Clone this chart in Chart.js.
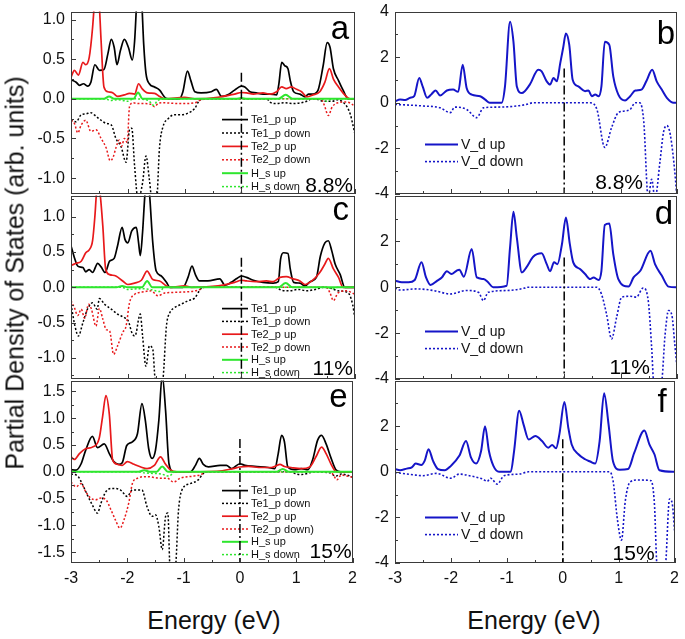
<!DOCTYPE html>
<html lang="en">
<head>
  <meta charset="UTF-8" />
  <title>Partial DOS</title>
  <script src="https://cdn.jsdelivr.net/npm/chart.js"></script>
  <style>
    * { box-sizing: border-box; }
    html, body {
      margin: 0;
      padding: 0;
      background: #fff;
      font-family: "Liberation Sans", Arial, sans-serif;
    }
    #wrap {
      position: relative;
      width: 685px;
      height: 639px;
      overflow: hidden;
    }
    canvas { position: absolute; }
    .ytitle {
      position: absolute;
      left: 15px;
      top: 273px;
      transform: translate(-50%, -50%) rotate(-90deg);
      white-space: nowrap;
      font-size: 25px;
      line-height: 1;
      color: #111;
    }
    .xtitle {
      position: absolute;
      top: 620px;
      transform: translate(-50%, -50%);
      white-space: nowrap;
      font-size: 25px;
      line-height: 1;
      color: #111;
    }
  </style>
</head>
<body>
<div id="wrap">
  <canvas id="pa"></canvas>
  <canvas id="pb"></canvas>
  <canvas id="pc"></canvas>
  <canvas id="pd"></canvas>
  <canvas id="pe"></canvas>
  <canvas id="pf"></canvas>
  <div class="ytitle">Partial Density of States (arb. units)</div>
  <div class="xtitle" style="left:214px">Energy (eV)</div>
  <div class="xtitle" style="left:534px">Energy (eV)</div>
</div>

<script>
  // ---- data: [energy (eV), DOS] ----
  const XTICKS = [-3, -2, -1, 0, 1, 2];
  const YTICKS_A = [-1.0, -0.5, 0, 0.5, 1.0];
  const YTICKS_C = [-1.0, -0.5, 0, 0.5, 1.0];
  const YTICKS_E = [-1.5, -1.0, -0.5, 0, 0.5, 1.0, 1.5];
  const YTICKS_B = [-4, -2, 0, 2, 4];
  const YTICKS_D = [-4, -2, 0, 2];
  const YTICKS_F = [-4, -2, 0, 2];
  const YRANGE_A = [-1.2, 1.1];
  const YRANGE_C = [-1.3, 1.3];
  const YRANGE_E = [-1.7, 1.7];
  const YRANGE_V = [-4, 4];
  const FERMI_TOPS = [0.33, 1.5, 0.42, 1.3, 0.61, 1.43]; // a b c d e f
  const LEGEND_LEFT = ["Te1_p up", "Te1_p down", "Te2_p up", "Te2_p down", "H_s up", "H_s down"];
  const LEGEND_LEFT_E = ["Te1_p up", "Te1_p down", "Te2_p up", "Te2_p down)", "H_s up", "H_s down"];
  const LEGEND_RIGHT = ["V_d up", "V_d down"];
  const STRAIN = ["8.8%", "8.8%", "11%", "11%", "15%", "15%"];

  // panel a (8.8%)
  const A_TE1_UP = [[-3.00,0.24],[-2.91,0.21],[-2.85,0.17],[-2.78,0.19],[-2.71,0.16],[-2.65,0.21],[-2.58,0.43],[-2.50,0.36],[-2.42,0.37],[-2.35,0.57],[-2.29,0.75],[-2.24,0.65],[-2.19,0.43],[-2.13,0.61],[-2.06,0.75],[-1.99,0.65],[-1.92,0.49],[-1.88,0.73],[-1.84,1.25],[-1.80,1.5],[-1.76,1.3],[-1.72,0.69],[-1.68,0.32],[-1.62,0.19],[-1.53,0.15],[-1.44,0.11],[-1.35,0.02],[-1.29,0],[-1.09,0],[-1.03,0.09],[-0.95,0.35],[-0.89,0.23],[-0.82,0.09],[-0.71,0.075],[-0.53,0.09],[-0.44,0.12],[-0.35,0.03],[-0.24,0.05],[-0.12,0.11],[0.00,0.16],[0.06,0.15],[0.15,0.09],[0.26,0.075],[0.38,0.06],[0.50,0.06],[0.62,0.05],[0.66,0.19],[0.71,0.46],[0.76,0.42],[0.82,0.38],[0.86,0.23],[0.92,0.09],[1.03,0.06],[1.12,0.025],[1.18,0.06],[1.26,0.06],[1.35,0.11],[1.44,0.42],[1.51,0.71],[1.56,0.65],[1.62,0.38],[1.71,0.23],[1.79,0.11],[1.88,0],[2.00,0]];
  const A_TE1_DN = [[-3.00,-0.26],[-2.91,-0.29],[-2.82,-0.2],[-2.74,-0.19],[-2.65,-0.175],[-2.56,-0.22],[-2.47,-0.27],[-2.38,-0.31],[-2.29,-0.33],[-2.21,-0.5],[-2.12,-0.6],[-2.03,-0.8],[-1.97,-0.39],[-1.93,-0.37],[-1.88,-0.85],[-1.82,-1.27],[-1.74,-1.06],[-1.68,-0.72],[-1.62,-1.02],[-1.56,-1.35],[-1.50,-1.35],[-1.44,-0.6],[-1.38,-0.35],[-1.29,-0.25],[-1.18,-0.2],[-1.06,-0.2],[-0.94,-0.18],[-0.82,-0.12],[-0.74,-0.02],[-0.65,0],[0.45,0],[0.50,-0.04],[0.60,-0.06],[0.75,-0.05],[0.90,-0.06],[1.05,-0.05],[1.15,-0.03],[1.25,0],[1.35,-0.01],[1.45,-0.03],[1.60,-0.03],[1.70,-0.01],[1.80,-0.05],[1.86,-0.1],[1.92,-0.2],[1.96,-0.32],[2.00,-0.45]];
  const A_TE2_UP = [[-3.00,0.27],[-2.94,0.36],[-2.87,0.3],[-2.79,0.46],[-2.74,0.43],[-2.68,0.52],[-2.62,0.9],[-2.58,1.3],[-2.55,1.6],[-2.51,1.3],[-2.47,0.73],[-2.42,0.15],[-2.35,0.09],[-2.26,0.075],[-2.18,0.03],[-2.06,0.05],[-1.97,0.07],[-1.88,0.06],[-1.81,0.19],[-1.75,0.13],[-1.65,0.075],[-1.53,0.07],[-1.44,0.03],[-1.35,0],[-1.00,0.02],[-0.82,0],[-0.41,0.02],[-0.12,0.06],[0.00,0.08],[0.09,0.075],[0.21,0.06],[0.38,0.075],[0.50,0.06],[0.62,0.09],[0.71,0.15],[0.79,0.13],[0.88,0.15],[0.97,0.12],[1.06,0.09],[1.15,0.025],[1.26,0.05],[1.38,0.09],[1.47,0.21],[1.55,0.38],[1.62,0.25],[1.71,0.15],[1.82,0.05],[1.91,0],[2.00,0]];
  const A_TE2_DN = [[-3.00,-0.27],[-2.94,-0.31],[-2.88,-0.43],[-2.82,-0.33],[-2.74,-0.27],[-2.65,-0.41],[-2.56,-0.39],[-2.47,-0.5],[-2.38,-0.62],[-2.31,-0.78],[-2.26,-0.74],[-2.21,-0.62],[-2.15,-0.52],[-2.11,-0.6],[-2.06,-0.5],[-2.01,-0.55],[-1.97,-0.1],[-1.91,-0.05],[-1.82,-0.06],[-1.71,-0.06],[-1.59,-0.07],[-1.53,-0.1],[-1.47,-0.06],[-1.38,-0.05],[-1.06,-0.06],[-0.82,-0.05],[-0.74,-0.02],[-0.59,0],[1.40,0],[1.46,-0.08],[1.53,-0.21],[1.60,-0.1],[1.70,-0.05],[1.85,-0.04],[1.95,-0.07],[2.00,-0.1]];
  const A_H_UP = [[-3,0],[-2.42,0],[-2.33,0.03],[-2.24,0],[-1.9,0],[-1.82,0.08],[-1.74,0],[-0.1,0],[0,0.01],[0.1,0],[0.65,0],[0.78,0.05],[0.9,0],[2,0]];
  const A_H_DN = [[-3,0],[-2.4,0],[-2.3,-0.02],[-2.18,-0.01],[-2.0,-0.03],[-1.9,0],[-1.64,-0.02],[-1.55,-0.08],[-1.47,-0.02],[-1.3,0],[1.4,0],[1.5,-0.03],[1.6,0],[2,0]];

  // panel c (11%)
  const C_TE1_UP = [[-3.00,0.59],[-2.94,0.42],[-2.88,0.3],[-2.79,0.28],[-2.74,0.22],[-2.68,0.25],[-2.62,0.21],[-2.53,0.34],[-2.47,0.29],[-2.40,0.21],[-2.32,0.37],[-2.24,0.41],[-2.18,0.59],[-2.10,0.85],[-2.05,0.68],[-2.00,0.63],[-1.93,0.8],[-1.85,0.85],[-1.81,0.63],[-1.78,0.45],[-1.74,0.78],[-1.70,1.3],[-1.66,1.6],[-1.62,1.35],[-1.56,0.63],[-1.50,0.23],[-1.41,0.16],[-1.32,0.07],[-1.26,0],[-1.03,0],[-0.94,0.14],[-0.87,0.3],[-0.81,0.18],[-0.74,0.09],[-0.59,0.09],[-0.38,0.12],[-0.29,0.03],[-0.18,0.07],[-0.09,0.12],[0.00,0.16],[0.09,0.14],[0.21,0.1],[0.38,0.07],[0.56,0.06],[0.65,0.08],[0.69,0.4],[0.74,0.49],[0.82,0.48],[0.86,0.26],[0.92,0.07],[1.03,0.06],[1.12,0.02],[1.21,0.08],[1.32,0.14],[1.39,0.44],[1.47,0.63],[1.53,0.66],[1.59,0.52],[1.65,0.33],[1.74,0.18],[1.82,0],[2.00,0]];
  const C_TE1_DN = [[-3.00,-0.24],[-2.93,-0.55],[-2.87,-0.69],[-2.79,-0.5],[-2.71,-0.31],[-2.62,-0.22],[-2.54,-0.31],[-2.50,-0.16],[-2.41,-0.24],[-2.29,-0.31],[-2.18,-0.38],[-2.06,-0.43],[-1.99,-0.48],[-1.93,-0.64],[-1.88,-0.69],[-1.85,-0.64],[-1.81,-0.45],[-1.78,-0.38],[-1.74,-0.69],[-1.68,-1.12],[-1.62,-0.83],[-1.56,-0.88],[-1.52,-1.3],[-1.44,-1.45],[-1.38,-1.3],[-1.32,-0.55],[-1.26,-0.36],[-1.18,-0.29],[-1.06,-0.24],[-0.94,-0.19],[-0.82,-0.15],[-0.74,-0.05],[-0.68,0],[0.60,0],[0.70,-0.04],[0.85,-0.05],[1.00,-0.03],[1.15,-0.05],[1.30,-0.03],[1.45,0],[1.60,-0.02],[1.70,-0.05],[1.82,-0.06],[1.90,-0.1],[1.96,-0.25],[2.00,-0.45]];
  const C_TE2_UP = [[-3.00,0.31],[-2.91,0.34],[-2.82,0.37],[-2.74,0.49],[-2.68,0.53],[-2.62,0.66],[-2.58,1.0],[-2.55,1.35],[-2.52,1.5],[-2.49,1.35],[-2.44,0.87],[-2.39,0.26],[-2.32,0.18],[-2.21,0.16],[-2.09,0.09],[-2.00,0.04],[-1.88,0.06],[-1.76,0.1],[-1.66,0.23],[-1.56,0.11],[-1.44,0.09],[-1.32,0.02],[-1.24,0],[-1.00,0.02],[-0.88,0],[-0.41,0.02],[-0.12,0.07],[0.00,0.1],[0.09,0.09],[0.26,0.08],[0.44,0.09],[0.56,0.08],[0.68,0.14],[0.79,0.15],[0.91,0.12],[1.03,0.09],[1.12,0.04],[1.24,0.09],[1.38,0.21],[1.47,0.33],[1.53,0.41],[1.62,0.26],[1.71,0.14],[1.79,0],[2.00,0]];
  const C_TE2_DN = [[-3.00,-0.19],[-2.94,-0.29],[-2.88,-0.4],[-2.82,-0.31],[-2.76,-0.44],[-2.69,-0.24],[-2.64,-0.31],[-2.56,-0.55],[-2.50,-0.3],[-2.44,-0.45],[-2.38,-0.6],[-2.32,-0.62],[-2.25,-0.95],[-2.18,-0.83],[-2.09,-0.64],[-2.03,-0.55],[-1.97,-0.22],[-1.88,-0.1],[-1.76,-0.07],[-1.59,-0.05],[-1.47,-0.12],[-1.35,-0.08],[-1.12,-0.07],[-0.76,-0.04],[-0.65,0],[1.50,0],[1.56,-0.08],[1.62,-0.19],[1.70,-0.08],[1.85,-0.05],[2.00,-0.1]];
  const C_H_UP = [[-3,0],[-2.2,0],[-2.1,0.02],[-2.0,0],[-1.75,0],[-1.66,0.09],[-1.57,0],[0.65,0],[0.78,0.06],[0.9,0],[2,0]];
  const C_H_DN = [[-3,0],[-2.1,0],[-2.0,-0.03],[-1.8,-0.02],[-1.6,-0.03],[-1.45,-0.06],[-1.35,0],[1.5,0],[1.6,-0.02],[1.7,0],[2,0]];

  // panel e (15%)
  const E_TE1_UP = [[-3.00,0.04],[-2.91,0.03],[-2.82,0.15],[-2.74,0.4],[-2.62,0.66],[-2.53,0.45],[-2.41,0.52],[-2.32,0.34],[-2.24,0.19],[-2.15,0.14],[-2.09,0.17],[-2.01,0.49],[-1.91,0.56],[-1.82,0.71],[-1.74,1.27],[-1.68,0.96],[-1.62,0.43],[-1.56,0.25],[-1.50,0.4],[-1.44,0.96],[-1.38,1.8],[-1.32,1.14],[-1.26,0.15],[-1.18,0],[-0.88,0],[-0.79,0.12],[-0.72,0.25],[-0.65,0.14],[-0.56,0.09],[-0.35,0.12],[-0.24,0.12],[-0.15,0.06],[0.00,0.15],[0.09,0.12],[0.26,0.1],[0.50,0.08],[0.62,0.06],[0.68,0.34],[0.74,0.68],[0.79,0.56],[0.85,0.09],[0.97,0.04],[1.09,0.06],[1.21,0.04],[1.29,0.22],[1.38,0.59],[1.45,0.68],[1.53,0.52],[1.62,0.25],[1.71,0.03],[1.79,0],[2.00,0]];
  const E_TE1_DN = [[-3.00,-0.04],[-2.88,-0.08],[-2.79,-0.25],[-2.71,-0.43],[-2.62,-0.62],[-2.53,-0.77],[-2.47,-0.59],[-2.38,-0.37],[-2.26,-0.31],[-2.12,-0.34],[-2.00,-0.46],[-1.91,-0.34],[-1.74,-0.34],[-1.65,-0.65],[-1.56,-0.83],[-1.50,-0.8],[-1.44,-1.02],[-1.38,-1.45],[-1.32,-0.83],[-1.28,-0.77],[-1.24,-1.8],[-1.15,-1.8],[-1.09,-0.71],[-1.03,-0.34],[-0.88,-0.22],[-0.74,-0.15],[-0.65,-0.03],[-0.59,0],[0.90,0],[1.00,-0.04],[1.10,-0.05],[1.20,-0.03],[1.30,0],[1.60,-0.02],[1.70,-0.08],[1.80,-0.04],[1.90,-0.06],[2.00,-0.1]];
  const E_TE2_UP = [[-3.00,0.28],[-2.94,0.23],[-2.85,0.34],[-2.74,0.43],[-2.62,0.46],[-2.50,0.62],[-2.44,1.02],[-2.38,1.42],[-2.32,1.08],[-2.26,0.22],[-2.18,0.14],[-2.09,0.12],[-2.00,0.19],[-1.88,0.14],[-1.76,0.09],[-1.65,0.06],[-1.52,0.12],[-1.41,0.28],[-1.32,0.14],[-1.24,0.04],[-1.12,0],[-0.41,0.01],[-0.12,0.06],[0.00,0.09],[0.15,0.1],[0.38,0.08],[0.56,0.08],[0.71,0.14],[0.79,0.1],[0.91,0.08],[1.09,0.06],[1.24,0.09],[1.35,0.28],[1.45,0.46],[1.53,0.34],[1.62,0.14],[1.71,0],[2.00,0]];
  const E_TE2_DN = [[-3.00,-0.19],[-2.91,-0.28],[-2.82,-0.22],[-2.74,-0.37],[-2.65,-0.49],[-2.56,-0.52],[-2.47,-0.49],[-2.38,-0.52],[-2.29,-0.71],[-2.21,-0.9],[-2.13,-1.05],[-2.06,-0.9],[-1.97,-0.56],[-1.91,-0.22],[-1.82,-0.12],[-1.65,-0.09],[-1.41,-0.12],[-1.29,-0.12],[-1.18,-0.19],[-1.06,-0.12],[-0.82,-0.08],[-0.71,-0.06],[-0.59,0],[1.60,0],[1.66,-0.06],[1.72,-0.15],[1.80,-0.06],[1.90,-0.08],[2.00,-0.1]];
  const E_H_UP = [[-3,0],[-1.8,0],[-1.7,0.03],[-1.6,0],[-1.48,0],[-1.38,0.1],[-1.28,0],[0.65,0],[0.76,0.05],[0.87,0],[2,0]];
  const E_H_DN = [[-3,0],[-1.8,0],[-1.7,-0.02],[-1.55,-0.03],[-1.4,-0.04],[-1.26,-0.08],[-1.15,0],[2,0]];

  // V_d, panels b d f
  const B_V_UP = [[-3.00,0.07],[-2.91,0.14],[-2.82,0.12],[-2.73,0.22],[-2.66,0.29],[-2.57,1.09],[-2.51,0.72],[-2.43,0.22],[-2.35,0.39],[-2.28,0.54],[-2.20,0.32],[-2.08,0.54],[-1.97,0.58],[-1.88,0.48],[-1.80,1.67],[-1.73,0.65],[-1.64,0.36],[-1.49,0.29],[-1.40,0.14],[-1.32,0],[-1.11,0],[-1.05,0.72],[-0.96,3.55],[-0.90,2.68],[-0.84,0.72],[-0.75,0.43],[-0.61,0.8],[-0.46,1.45],[-0.40,1.38],[-0.31,0.94],[-0.25,0.8],[-0.19,1.09],[-0.13,0.94],[-0.07,1.74],[-0.02,2.39],[0.03,3.04],[0.09,2.54],[0.15,1.01],[0.25,0.72],[0.37,0.51],[0.43,0.54],[0.49,0.29],[0.55,0.36],[0.61,0.29],[0.66,0.72],[0.72,2.68],[0.80,2.54],[0.87,1.16],[0.96,0.36],[1.08,0.1],[1.17,0.29],[1.26,0.54],[1.37,0.58],[1.46,0.97],[1.56,1.45],[1.64,0.94],[1.73,0.58],[1.82,0.22],[1.94,0],[2.00,0]];
  const B_V_DN = [[-3.00,-0.07],[-2.50,-0.14],[-2.20,-0.22],[-2.02,-0.43],[-1.94,-0.19],[-1.73,-0.29],[-1.55,-0.65],[-1.43,-0.22],[-1.20,-0.19],[-0.84,-0.14],[-0.67,-0.07],[-0.55,0],[0.46,0],[0.58,-0.29],[0.72,-1.96],[0.84,-1.09],[0.96,-0.43],[1.08,-0.36],[1.17,-0.29],[1.26,0],[1.34,0],[1.41,-0.8],[1.49,-4.2],[1.55,-3.35],[1.61,-4.2],[1.70,-2.54],[1.76,-1.3],[1.82,-1.0],[1.88,-1.38],[1.96,-3.0],[2.00,-4.2]];
  const D_V_UP = [[-3.00,0.29],[-2.88,0.22],[-2.76,0.22],[-2.65,0.32],[-2.53,1.09],[-2.45,0.43],[-2.37,0.1],[-2.25,0.29],[-2.17,0.43],[-2.08,0.7],[-2.00,0.58],[-1.91,0.72],[-1.86,0.77],[-1.78,0.46],[-1.64,1.67],[-1.55,0.43],[-1.43,0.36],[-1.35,0.22],[-1.26,0],[-1.02,0.07],[-0.96,1.74],[-0.90,3.3],[-0.84,2.17],[-0.75,0.65],[-0.67,0.87],[-0.55,1.33],[-0.40,1.48],[-0.31,1.01],[-0.25,0.7],[-0.18,1.09],[-0.12,1.01],[-0.04,1.88],[0.03,3.04],[0.10,1.88],[0.16,1.09],[0.28,0.8],[0.37,0.58],[0.46,0.36],[0.52,0.43],[0.61,0.32],[0.66,0.72],[0.72,2.72],[0.80,2.78],[0.87,1.45],[0.96,0.36],[1.14,0.03],[1.23,0.43],[1.35,0.72],[1.53,1.59],[1.61,1.01],[1.73,0.51],[1.85,0.03],[2.00,0]];
  const D_V_DN = [[-3.00,-0.03],[-2.91,-0.12],[-2.62,-0.07],[-2.32,-0.14],[-2.02,-0.29],[-1.73,-0.14],[-1.52,-0.22],[-1.43,-0.58],[-1.35,-0.22],[-1.02,-0.14],[-0.70,-0.03],[-0.67,0],[0.58,0],[0.66,-0.29],[0.75,-1.16],[0.84,-2.25],[0.93,-1.3],[1.02,-0.43],[1.17,-0.39],[1.28,-0.43],[1.40,-0.03],[1.49,-0.58],[1.55,-2.6],[1.59,-4.2],[1.72,-4.2],[1.79,-2.03],[1.85,-1.01],[1.91,-1.23],[1.96,-2.46],[2.00,-3.48]];
  const F_V_UP = [[-3.00,0.12],[-2.91,0.07],[-2.79,0.14],[-2.70,0.19],[-2.63,0.36],[-2.53,0.3],[-2.47,0.48],[-2.40,0.99],[-2.32,0.48],[-2.23,0.12],[-2.11,0.07],[-2.00,0.26],[-1.85,0.7],[-1.73,1.35],[-1.64,0.62],[-1.55,0.36],[-1.46,0.91],[-1.39,2.0],[-1.32,0.91],[-1.24,0.26],[-1.14,0],[-0.93,0],[-0.87,0.91],[-0.78,2.68],[-0.70,2.07],[-0.61,1.42],[-0.49,1.57],[-0.37,1.35],[-0.26,1.06],[-0.19,1.17],[-0.12,1.03],[-0.06,1.64],[0.03,3.06],[0.10,1.93],[0.16,1.2],[0.28,0.77],[0.40,0.55],[0.49,0.45],[0.58,0.36],[0.66,1.35],[0.74,3.45],[0.82,2.07],[0.90,0.45],[1.02,0.09],[1.17,0.12],[1.28,0.84],[1.46,1.81],[1.55,1.2],[1.64,0.77],[1.73,0.07],[2.00,0]];
  const F_V_DN = [[-3.00,-0.03],[-2.67,-0.13],[-2.50,-0.17],[-2.26,-0.07],[-2.00,-0.28],[-1.85,-0.1],[-1.67,-0.17],[-1.43,-0.32],[-1.35,-0.42],[-1.29,-0.28],[-1.17,-0.54],[-1.05,-0.17],[-0.78,-0.1],[-0.61,0],[0.84,0],[0.90,-0.39],[0.98,-2.13],[1.05,-3.0],[1.12,-1.26],[1.20,-0.46],[1.34,-0.36],[1.58,-0.39],[1.64,-1.41],[1.69,-4.2],[1.83,-4.2],[1.91,-1.19],[1.96,-1.41],[2.00,-2.57]];

  // ---- styling ----
  const BLACK = "#000000";
  const RED = "#e8191b";
  const GREEN = "#2ee62e";
  const BLUE = "#1515c8";
  const FONT = '"Liberation Sans", Arial, sans-serif';

  function serie(label, data, color, dotted, width, order) {
    return {
      label: label,
      data: data,
      borderColor: color,
      borderWidth: width,
      borderDash: dotted ? [2, 2] : [],
      pointRadius: 0,
      fill: false,
      cubicInterpolationMode: "monotone",
      order: order
    };
  }

  function fermi(top, bottom) {
    return {
      label: "EF",
      data: [[0, top], [0, bottom]],
      borderColor: BLACK,
      borderWidth: 1.5,
      borderDash: [9, 3, 2, 3],
      pointRadius: 0,
      tension: 0,
      order: 0,
      noLegend: true
    };
  }

  // frame, inward ticks, legend, labels
  const decoPlugin = {
    id: "deco",
    beforeDatasetsDraw(chart, args, o) {
      const ctx = chart.ctx;
      const a = chart.chartArea;
      ctx.save();
      ctx.font = o.legendFont + "px " + FONT;
      ctx.textBaseline = "middle";
      let row = 0;
      chart.data.datasets.forEach(ds => {
        if (ds.noLegend) return;
        const y = a.top + o.legendY + row * o.legendStep;
        const x0 = a.left + o.legendX;
        ctx.strokeStyle = ds.borderColor;
        ctx.lineWidth = ds.borderWidth;
        ctx.setLineDash(ds.borderDash);
        ctx.beginPath();
        ctx.moveTo(x0, y);
        ctx.lineTo(x0 + o.sampleLen, y);
        ctx.stroke();
        ctx.setLineDash([]);
        ctx.fillStyle = "#111";
        ctx.fillText(o.names[row], x0 + o.sampleLen + 3, y + 0.5);
        row++;
      });
      ctx.restore();
    },
    afterDraw(chart, args, o) {
      const ctx = chart.ctx;
      const a = chart.chartArea;
      const xs = chart.scales.x, ys = chart.scales.y;
      ctx.save();
      ctx.strokeStyle = "#3a3a3a";
      ctx.lineWidth = 1;
      ctx.setLineDash([]);
      ctx.strokeRect(Math.round(a.left) + 0.5, Math.round(a.top) + 0.5,
                     Math.round(a.right - a.left) - 1, Math.round(a.bottom - a.top) - 1);
      // x ticks, inward from the bottom
      ctx.beginPath();
      for (let v = xs.min; v <= xs.max + 1e-9; v += 0.5) {
        const px = Math.round(xs.getPixelForValue(v)) + 0.5;
        const len = Math.abs(v - Math.round(v)) < 1e-9 ? 5 : 3;
        ctx.moveTo(px, a.bottom);
        ctx.lineTo(px, a.bottom - len);
      }
      // y ticks, inward from the left
      const step = o.yMinor;
      const start = Math.ceil(ys.min / step - 1e-9) * step;
      for (let v = start; v <= ys.max + 1e-9; v += step) {
        const py = Math.round(ys.getPixelForValue(v)) + 0.5;
        const major = Math.abs(v / (2 * step) - Math.round(v / (2 * step))) < 1e-6;
        ctx.moveTo(a.left, py);
        ctx.lineTo(a.left + (major ? 5 : 3), py);
      }
      ctx.stroke();
      // panel letter and strain label
      ctx.fillStyle = "#000";
      ctx.textAlign = "right";
      ctx.textBaseline = "alphabetic";
      ctx.font = "33px " + FONT;
      ctx.fillText(o.letter, a.right - o.letterPos[0], a.top + o.letterPos[1]);
      ctx.font = "21px " + FONT;
      ctx.fillText(o.pct, a.right - o.pctPos[0], a.bottom - o.pctPos[1]);
      ctx.restore();
    }
  };

  const PAD_L = 60, PAD_T = 14, PAD_R = 8, PAD_B = 30;

  function panel(id, rect, datasets, yRange, yTicks, yMinor, fmt, showX, opts) {
    const cv = document.getElementById(id);
    const w = rect[2] - rect[0] + PAD_L + PAD_R;
    const h = rect[3] - rect[1] + PAD_T + PAD_B;
    cv.width = w; cv.height = h;
    cv.style.left = (rect[0] - PAD_L) + "px";
    cv.style.top = (rect[1] - PAD_T) + "px";
    cv.style.width = w + "px";
    cv.style.height = h + "px";
    opts.yMinor = yMinor;
    return new Chart(cv, {
      type: "line",
      data: { datasets: datasets },
      options: {
        responsive: false,
        animation: false,
        devicePixelRatio: 1,
        layout: { padding: { top: PAD_T, right: PAD_R, left: 0, bottom: 0 } },
        plugins: { legend: { display: false }, tooltip: { enabled: false }, deco: opts },
        scales: {
          x: {
            type: "linear", min: -3, max: 2,
            grid: { display: false, drawTicks: false },
            border: { display: false },
            ticks: { display: showX, autoSkip: false, padding: 6, color: "#111",
                     font: { family: FONT, size: 16 } },
            afterBuildTicks: s => { s.ticks = XTICKS.map(v => ({ value: v })); },
            afterFit: s => { s.height = PAD_B; }
          },
          y: {
            type: "linear", min: yRange[0], max: yRange[1],
            grid: { display: false, drawTicks: false },
            border: { display: false },
            ticks: { autoSkip: false, padding: 6, color: "#111",
                     font: { family: FONT, size: 16 }, callback: fmt },
            afterBuildTicks: s => { s.ticks = yTicks.map(v => ({ value: v })); },
            afterFit: s => { s.width = PAD_L; }
          }
        }
      },
      plugins: [decoPlugin]
    });
  }

  function leftSets(te1u, te1d, te2u, te2d, hu, hd, top, bottom) {
    return [
      serie("Te1_p up", te1u, BLACK, false, 1.7, 3),
      serie("Te1_p down", te1d, BLACK, true, 1.5, 5),
      serie("Te2_p up", te2u, RED, false, 1.7, 2),
      serie("Te2_p down", te2d, RED, true, 1.5, 4),
      serie("H_s up", hu, GREEN, false, 2, 1),
      serie("H_s down", hd, GREEN, true, 1.5, 1.5),
      fermi(top, bottom)
    ];
  }
  function rightSets(up, dn, top) {
    return [
      serie("V_d up", up, BLUE, false, 2, 2),
      serie("V_d down", dn, BLUE, true, 1.6, 3),
      fermi(top, -4)
    ];
  }

  const f1 = v => v.toFixed(1);
  const f0 = v => String(v);
  const legL = (y, step, names) => ({ legendX: 151, legendY: y, legendStep: step, sampleLen: 26, legendFont: 11, names: names });
  const legR = (y) => ({ legendX: 30, legendY: y, legendStep: 17, sampleLen: 33, legendFont: 14, names: LEGEND_RIGHT });

  // plot rectangles [left, top, right, bottom] in page pixels
  const LX = [71, 355], RX = [395, 677];
  const ROWS = [[10, 194], [194, 379], [379, 563]];

  panel("pa", [LX[0], ROWS[0][0], LX[1], ROWS[0][1]],
    leftSets(A_TE1_UP, A_TE1_DN, A_TE2_UP, A_TE2_DN, A_H_UP, A_H_DN, FERMI_TOPS[0], YRANGE_A[0]),
    YRANGE_A, YTICKS_A, 0.25, f1, false,
    Object.assign({ letter: "a", letterPos: [6, 27], pct: STRAIN[0], pctPos: [2, 2] }, legL(108, 13.4, LEGEND_LEFT)));

  panel("pb", [RX[0], ROWS[0][0], RX[1], ROWS[0][1]],
    rightSets(B_V_UP, B_V_DN, FERMI_TOPS[1]),
    YRANGE_V, YTICKS_B, 1, f0, false,
    Object.assign({ letter: "b", letterPos: [2, 32], pct: STRAIN[1], pctPos: [34, 5] }, legR(133)));

  panel("pc", [LX[0], ROWS[1][0], LX[1], ROWS[1][1]],
    leftSets(C_TE1_UP, C_TE1_DN, C_TE2_UP, C_TE2_DN, C_H_UP, C_H_DN, FERMI_TOPS[2], YRANGE_C[0]),
    YRANGE_C, YTICKS_C, 0.25, f1, false,
    Object.assign({ letter: "c", letterPos: [6, 24], pct: STRAIN[2], pctPos: [2, 4] }, legL(113, 12.8, LEGEND_LEFT)));

  panel("pd", [RX[0], ROWS[1][0], RX[1], ROWS[1][1]],
    rightSets(D_V_UP, D_V_DN, FERMI_TOPS[3]),
    YRANGE_V, YTICKS_D, 1, f0, false,
    Object.assign({ letter: "d", letterPos: [4, 28], pct: STRAIN[3], pctPos: [27, 5] }, legR(136)));

  panel("pe", [LX[0], ROWS[2][0], LX[1], ROWS[2][1]],
    leftSets(E_TE1_UP, E_TE1_DN, E_TE2_UP, E_TE2_DN, E_H_UP, E_H_DN, FERMI_TOPS[4], YRANGE_E[0]),
    YRANGE_E, YTICKS_E, 0.25, f1, true,
    Object.assign({ letter: "e", letterPos: [5, 26], pct: STRAIN[4], pctPos: [1, 5] }, legL(110, 12.8, LEGEND_LEFT_E)));

  panel("pf", [RX[0], ROWS[2][0], RX[1], ROWS[2][1]],
    rightSets(F_V_UP, F_V_DN, FERMI_TOPS[5]),
    YRANGE_V, YTICKS_F, 1, f0, true,
    Object.assign({ letter: "f", letterPos: [8, 31], pct: STRAIN[5], pctPos: [20, 3] }, legR(137)));
</script>
</body>
</html>
